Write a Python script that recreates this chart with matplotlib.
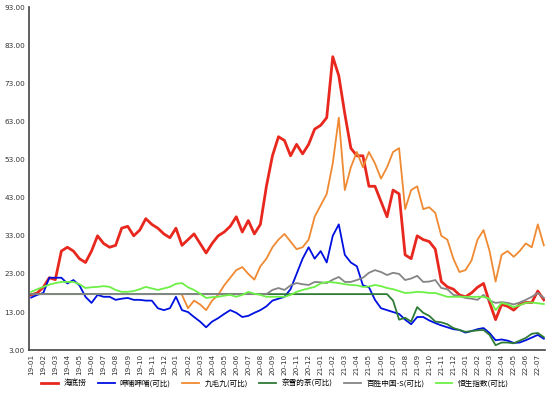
import numpy as np
import matplotlib
matplotlib.use("Agg")
import matplotlib.pyplot as plt

plt.rcParams['font.family'] = ['Noto Sans CJK SC', 'DejaVu Sans']

month_labels = [f"{y}-{m:02d}" for y in (19, 20, 21, 22) for m in range(1, 13)][:43]

# half-month steps starting at 19-01
haidilao = [17.5, 18, 19.5, 22, 21.5, 29, 30, 29, 27, 26, 29, 33, 31, 30, 30.5, 35, 35.5, 33, 34.5, 37.5,
            36, 35, 33.5, 32.5, 35, 30.5, 32, 33.5, 31, 28.5, 31, 33, 34, 35.5, 38, 34, 37, 33.5, 36, 46,
            54, 59, 58, 54, 57, 54.5, 57, 61, 62, 64, 80, 75, 65, 56, 54, 54, 46, 46, 42, 38,
            45, 44, 28, 27, 33, 32, 31.5, 29.5, 21, 19.6, 19, 17.5, 17, 18, 19.5, 20.5, 15.5, 11, 15, 14.5,
            13.5, 15, 15.5, 15.5, 18.5, 16.2]
xiabu = [16.8, 17.5, 18, 22, 22, 22, 20.5, 21.4, 20, 17, 15.4, 17.5, 17, 17, 16.2, 16.5, 16.7, 16.2, 16.2, 16,
         16, 14, 13.5, 14, 17, 13.5, 13, 11.7, 10.5, 9, 10.5, 11.4, 12.5, 13.5, 12.8, 11.7, 12, 12.8, 13.5, 14.5,
         16, 16.5, 17, 19, 23, 27, 30, 27, 29, 26, 33, 36, 28, 26, 25, 20, 19.5, 16.2, 14, 13.5,
         13, 12.5, 11, 9.8, 11.7, 11.7, 10.8, 10.1, 9.5, 9, 8.5, 8.3, 7.6, 8, 8.5, 8.8, 7.5, 5.6, 5.8, 5.5,
         4.9, 5, 5.6, 6.3, 7, 6]
jiumaojiu = [np.nan] * 25 + [17.5, 14, 16, 15, 13.5, 16, 17.5, 20, 22, 24, 24.8, 23, 21.5, 25, 27,
             30, 32, 33.5, 31.5, 29.5, 30, 32, 38, 41, 44, 52, 64, 45, 51, 55, 51, 55, 52, 48, 51,
             55, 56, 40, 45, 46, 40, 40.5, 39, 33, 32, 27, 23.5, 24, 26.5, 32, 34.5, 29, 21, 28, 29,
             27.5, 29, 31, 30, 36, 30.5]
naixue = [17.7] * 60 + [16, 11, 11.5, 10.5, 14.3, 12.8, 12, 10.5, 10.3, 9.8, 8.8, 8.3, 7.8, 8, 8.2, 8.3,
                        7, 4.3, 5, 5, 4.8, 5.5, 6.2, 7.3, 7.5, 6.4]
yumchina = [17.7] * 40 + [18.8, 19.3, 18.8, 20, 20.6, 20.3, 20.1, 20.9, 20.8, 20.6, 21.5, 22.2, 20.9, 20.9,
                          21.4, 22, 23.3, 24, 23.5, 22.7, 23.3, 23, 21.4, 21.8, 22.5, 20.9, 21, 21.4, 19.3, 19,
                          17.5, 17.2, 16.7, 16.5, 16.2, 17.5, 16, 15.4, 15.6, 15.4, 15, 15.5, 16.2, 17, 18, 16.7]
hsi = [18.3, 19, 19.6, 20.2, 20.6, 20.9, 20.9, 20.9, 20.3, 19.3, 19.5, 19.6, 19.8, 19.6, 18.8, 18.3, 18.3, 18.5, 19, 19.6,
       19.2, 18.8, 19.2, 19.6, 20.4, 20.6, 19.5, 18.8, 17.8, 16.7, 16.9, 17, 17.3, 17.5, 17, 17.5, 18.3, 17.8, 17.5, 17,
       17, 17, 17, 17.5, 18.3, 18.8, 19.2, 19.6, 20.5, 20.9, 20.8, 20.6, 20.3, 20.1, 20, 19.6, 19.7, 20.1, 19.8, 19.3,
       19, 18.5, 18, 18.1, 18.3, 18.2, 18, 18, 17.5, 17, 17, 17, 17, 17, 17, 17, 16.5, 13.5, 15.4, 15,
       14.3, 14.8, 15.4, 15.5, 15.3, 15.1]

series = [
    ("海底捞", haidilao, "#e8281e", 2.0),
    ("呷哺呷哺(可比)", xiabu, "#0010e0", 1.3),
    ("九毛九(可比)", jiumaojiu, "#f08a32", 1.3),
    ("奈雪的茶(可比)", naixue, "#2e7b36", 1.3),
    ("百胜中国-S(可比)", yumchina, "#858585", 1.3),
    ("恒生指数(可比)", hsi, "#6cf046", 1.3),
]

fig = plt.figure(figsize=(5.5, 3.97), dpi=100)
ax = fig.add_axes([0.053, 0.118, 0.938, 0.864])

for name, vals, col, lw in series:
    t = np.arange(len(vals)) * 0.5
    ax.plot(t, vals, color=col, lw=lw, label=name, solid_joinstyle='round')

ax.set_xlim(-0.17, 42.6)
ax.set_ylim(3, 93)
ax.set_yticks(np.arange(3, 94, 10))
ax.set_yticklabels([f"{v:.2f}" for v in np.arange(3, 94, 10)], fontsize=5.2, family='DejaVu Sans')
ax.set_xticks(np.arange(len(month_labels)))
ax.set_xticklabels(month_labels, rotation=90, fontsize=5.2, family='DejaVu Sans')
ax.tick_params(axis='both', length=0, pad=3, colors='#333333')
for s in ('top', 'right'):
    ax.spines[s].set_visible(False)
for s in ('left', 'bottom'):
    ax.spines[s].set_color('#444444')
    ax.spines[s].set_linewidth(1.2)

fig.legend(loc='center', bbox_to_anchor=(0.5, 0.035), ncol=6, frameon=False,
           fontsize=5.5, handlelength=2.2, columnspacing=1.5, handletextpad=0.7)

fig.savefig("out.png", dpi=100)
